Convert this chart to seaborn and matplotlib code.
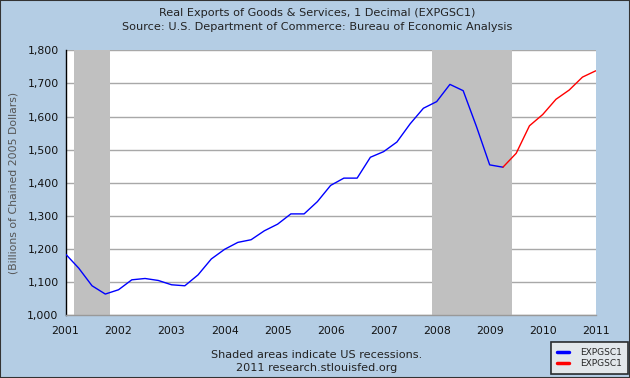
import matplotlib
matplotlib.use("Agg")
import matplotlib.pyplot as plt
import seaborn as sns
import pandas as pd
from matplotlib.patches import Rectangle

# quarterly values, billions of chained 2005 dollars
blue_quarters = ["2001Q1", "2001Q2", "2001Q3", "2001Q4",
                 "2002Q1", "2002Q2", "2002Q3", "2002Q4",
                 "2003Q1", "2003Q2", "2003Q3", "2003Q4",
                 "2004Q1", "2004Q2", "2004Q3", "2004Q4",
                 "2005Q1", "2005Q2", "2005Q3", "2005Q4",
                 "2006Q1", "2006Q2", "2006Q3", "2006Q4",
                 "2007Q1", "2007Q2", "2007Q3", "2007Q4",
                 "2008Q1", "2008Q2", "2008Q3", "2008Q4",
                 "2009Q1", "2009Q2"]
blue_values = [1185, 1142, 1089, 1064,
               1077, 1107, 1111, 1105,
               1092, 1089, 1122, 1170,
               1199, 1220, 1228, 1255,
               1275, 1306, 1306, 1343,
               1392, 1414, 1414, 1477,
               1494, 1523, 1578, 1625,
               1645, 1697, 1678, 1570,
               1454, 1447]
red_quarters = ["2009Q2", "2009Q3", "2009Q4", "2010Q1", "2010Q2",
                "2010Q3", "2010Q4", "2011Q1"]
red_values = [1447, 1489, 1572, 1606, 1652, 1680, 1719, 1738]

recessions = [("2001-03-01", "2001-11-01"), ("2007-12-01", "2009-06-01")]
year_ticks = list(range(2001, 2012))
y_ticks = list(range(1000, 1801, 100))


def to_year(labels):
    p = pd.PeriodIndex(labels, freq="Q")
    return p.year + (p.quarter - 1) / 4.0


def date_to_year(s):
    d = pd.Timestamp(s)
    return d.year + (d.month - 1) / 12.0


blue_df = pd.DataFrame({"x": to_year(blue_quarters), "y": blue_values})
red_df = pd.DataFrame({"x": to_year(red_quarters), "y": red_values})

sns.set_theme(style="white")
plt.rcParams["font.family"] = ["DejaVu Sans"]

bg = "#B4CDE4"
fig = plt.figure(figsize=(6.3, 3.78), dpi=100, facecolor=bg)
ax = fig.add_axes([0.104, 0.166, 0.8416, 0.701])
ax.set_facecolor("white")

for y in y_ticks:
    ax.axhline(y, color="#A8A8A8", lw=1, zorder=0)
for start, end in recessions:
    ax.axvspan(date_to_year(start), date_to_year(end), color="#C0C0C0", lw=0, zorder=1)

sns.lineplot(data=blue_df, x="x", y="y", ax=ax, color="#0000FF", lw=1,
             label="EXPGSC1", zorder=3)
sns.lineplot(data=red_df, x="x", y="y", ax=ax, color="#FF0000", lw=1,
             label="EXPGSC1", zorder=3)

ax.set_xlim(2001, 2011)
ax.set_ylim(1000, 1800)
ax.set_xticks(year_ticks)
ax.set_xticklabels([str(y) for y in year_ticks], fontsize=7.8, color="#111111")
ax.set_yticks(y_ticks)
ax.set_yticklabels([f"{v:,}" for v in y_ticks], fontsize=7.8, color="#111111")
ax.tick_params(axis="x", direction="in", length=5, color="#999999", pad=8)
ax.tick_params(axis="y", direction="in", length=3, color="black", pad=5)
ax.set_xlabel("")
ax.set_ylabel("(Billions of Chained 2005 Dollars)", fontsize=7.8, color="#555555",
              labelpad=6)
for side in ["top", "right"]:
    ax.spines[side].set_visible(False)
ax.spines["left"].set_color("black")
ax.spines["left"].set_linewidth(1)
ax.spines["bottom"].set_color("#999999")
ax.spines["bottom"].set_linewidth(1)

fig.text(0.503, 1 - 13 / 378, "Real Exports of Goods & Services, 1 Decimal (EXPGSC1)",
         ha="center", va="center", fontsize=8.1, color="#222222")
fig.text(0.503, 1 - 27 / 378, "Source: U.S. Department of Commerce: Bureau of Economic Analysis",
         ha="center", va="center", fontsize=8.1, color="#222222")
fig.text(0.503, 1 - 355 / 378, "Shaded areas indicate US recessions.",
         ha="center", va="center", fontsize=8.1, color="#222222")
fig.text(0.503, 1 - 368 / 378, "2011 research.stlouisfed.org",
         ha="center", va="center", fontsize=8.1, color="#222222")

ax.get_legend().remove()
handles, labels = ax.get_legend_handles_labels()
leg = fig.legend(handles, labels, loc="lower right", bbox_to_anchor=(0.997, 0.01),
                 fontsize=6.5, frameon=True, fancybox=False, handlelength=1.35,
                 handletextpad=1.2, borderpad=0.7, labelspacing=0.2,
                 borderaxespad=0)
leg.get_frame().set_edgecolor("black")
leg.get_frame().set_linewidth(1.2)
leg.get_frame().set_facecolor("#EEEEEE")
for line in leg.get_lines():
    line.set_linewidth(2.5)

fig.patches.append(Rectangle((0, 0), 1, 1, transform=fig.transFigure, fill=False,
                             edgecolor="#333333", lw=1.5, zorder=10))

fig.savefig("out.png", dpi=100, facecolor=bg)
